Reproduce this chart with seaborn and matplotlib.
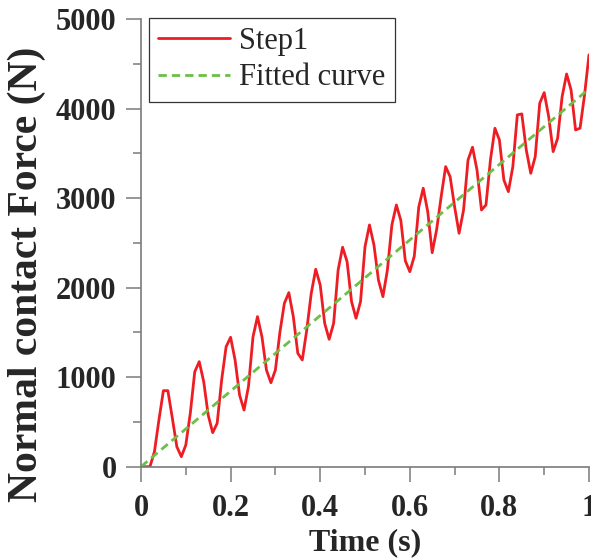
import matplotlib
matplotlib.use("Agg")
import matplotlib.pyplot as plt
from matplotlib.ticker import MultipleLocator
import pandas as pd
import seaborn as sns

# Normal contact force sampled every 0.01 s during loading step 1
step_time = [
    0.00, 0.01, 0.02, 0.03, 0.04, 0.05, 0.06, 0.07, 0.08, 0.09,
    0.10, 0.11, 0.12, 0.13, 0.14, 0.15, 0.16, 0.17, 0.18, 0.19,
    0.20, 0.21, 0.22, 0.23, 0.24, 0.25, 0.26, 0.27, 0.28, 0.29,
    0.30, 0.31, 0.32, 0.33, 0.34, 0.35, 0.36, 0.37, 0.38, 0.39,
    0.40, 0.41, 0.42, 0.43, 0.44, 0.45, 0.46, 0.47, 0.48, 0.49,
    0.50, 0.51, 0.52, 0.53, 0.54, 0.55, 0.56, 0.57, 0.58, 0.59,
    0.60, 0.61, 0.62, 0.63, 0.64, 0.65, 0.66, 0.67, 0.68, 0.69,
    0.70, 0.71, 0.72, 0.73, 0.74, 0.75, 0.76, 0.77, 0.78, 0.79,
    0.80, 0.81, 0.82, 0.83, 0.84, 0.85, 0.86, 0.87, 0.88, 0.89,
    0.90, 0.91, 0.92, 0.93, 0.94, 0.95, 0.96, 0.97, 0.98, 0.99,
    1.00,
]
step_force = [
    0, 0, 0, 168, 522, 849, 849, 541, 223, 112,
    242, 596, 1061, 1173, 949, 577, 380, 485, 968, 1340,
    1445, 1192, 801, 633, 900, 1450, 1676, 1450, 1080, 938,
    1080, 1500, 1825, 1944, 1676, 1267, 1192, 1527, 1937, 2205,
    2030, 1602, 1423, 1602, 2197, 2451, 2290, 1843, 1658, 1843,
    2457, 2700, 2476, 2085, 1899, 2197, 2700, 2923, 2750, 2300,
    2178, 2350, 2900, 3110, 2850, 2390, 2650, 3016, 3351, 3239,
    2904, 2607, 2867, 3426, 3568, 3314, 2867, 2923, 3426, 3780,
    3649, 3202, 3072, 3351, 3929, 3940, 3537, 3277, 3463, 4059,
    4178, 3910, 3519, 3668, 4133, 4386, 4208, 3761, 3780, 4150,
    4600,
]

# Linear fit of the force history
fit_time = [0.0, 1.0]
fit_force = [0, 4220]

x_ticks = [0, 0.2, 0.4, 0.6, 0.8, 1]
x_tick_labels = ["0", "0.2", "0.4", "0.6", "0.8", "1"]
y_ticks = [0, 1000, 2000, 3000, 4000, 5000]

step_df = pd.DataFrame({"t": step_time, "F": step_force})
fit_df = pd.DataFrame({"t": fit_time, "F": fit_force})

sns.set_style("ticks")
plt.rcParams["font.family"] = ["Liberation Serif", "DejaVu Serif"]

fig = plt.figure(figsize=(5.91, 5.60), dpi=100)
ax = fig.add_axes([141 / 591, 1 - 466.7 / 560, 448 / 591, (466.7 - 19) / 560])

sns.lineplot(data=step_df, x="t", y="F", ax=ax, color="#ee1d23", lw=2.0,
             label="Step1", sort=False)
sns.lineplot(data=fit_df, x="t", y="F", ax=ax, color="#6cbf47", lw=2.0,
             label="Fitted curve", linestyle=(0, (3.0, 1.8)))

ax.set_xlim(0, 1)
ax.set_ylim(0, 5000)
ax.set_xticks(x_ticks)
ax.set_xticklabels(x_tick_labels)
ax.set_yticks(y_ticks)
ax.xaxis.set_minor_locator(MultipleLocator(0.1))
ax.yaxis.set_minor_locator(MultipleLocator(500))

spine_col = "#7a7a7a"
for side in ("top", "right"):
    ax.spines[side].set_visible(False)
for side in ("left", "bottom"):
    ax.spines[side].set_color(spine_col)
    ax.spines[side].set_linewidth(1.2)

ax.tick_params(axis="both", which="major", direction="out", length=10.5,
               width=1.1, color=spine_col, labelsize=22)
ax.tick_params(axis="both", which="minor", direction="out", length=5.5,
               width=1.1, color=spine_col)
ax.tick_params(axis="x", which="major", pad=9)
ax.tick_params(axis="y", which="major", pad=7)
for lab in ax.get_xticklabels() + ax.get_yticklabels():
    lab.set_fontweight("bold")

ax.set_xlabel("Time (s)", fontsize=23, fontweight="bold", labelpad=4)
ax.set_ylabel("Normal contact Force (N)", fontsize=30, fontweight="bold")
ax.yaxis.set_label_coords(-0.213, 0.43)

leg = ax.legend(loc="upper left", bbox_to_anchor=(0.018, 1.003),
                borderaxespad=0, fontsize=22, frameon=True, fancybox=False,
                framealpha=1, edgecolor="#333333", handlelength=2.35,
                handletextpad=0.3, labelspacing=0.25, borderpad=0.3)
leg.get_frame().set_linewidth(0.9)

fig.savefig("out.png", dpi=100)
